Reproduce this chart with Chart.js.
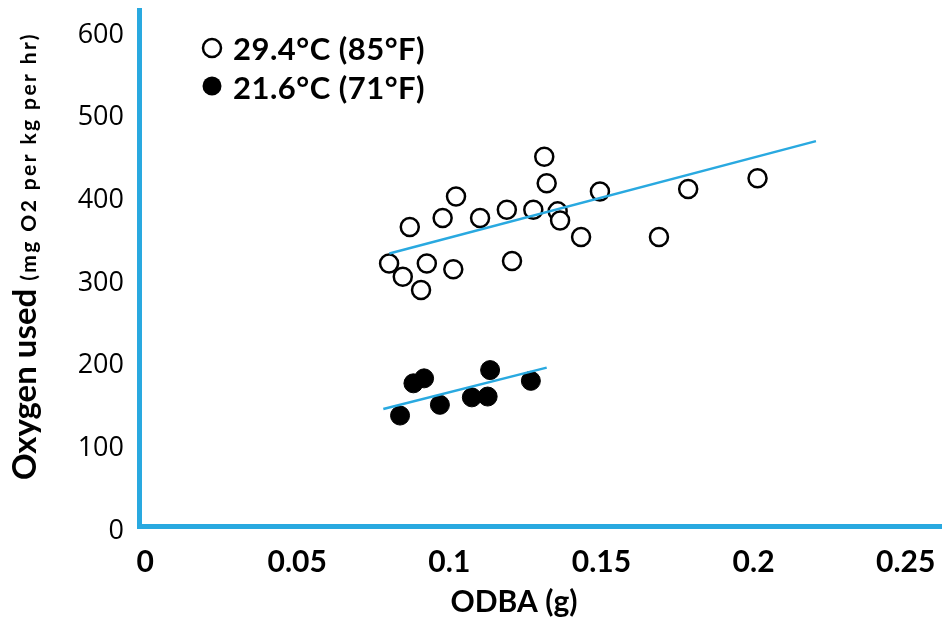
<!DOCTYPE html>
<html>
<head>
<meta charset="utf-8">
<script src="https://cdn.jsdelivr.net/npm/chart.js@4/dist/chart.umd.min.js"></script>
<style>
  html, body { margin: 0; padding: 0; background: #fff; }
  #wrap { width: 942px; height: 621px; position: relative; }
</style>
</head>
<body>
<div id="wrap"><canvas id="chart_oxygen" width="942" height="621"></canvas></div>
<script>
// 29.4°C (85°F) - open circles
var warmX = [0.0802, 0.0847, 0.0907, 0.0870, 0.0926, 0.1013, 0.0978, 0.1022, 0.1101, 0.1189, 0.1206,
             0.1276, 0.1312, 0.1320, 0.1356, 0.1364, 0.1433, 0.1495, 0.1689, 0.1785, 0.2013];
var warmY = [320, 304, 288, 364, 320, 313, 375, 401, 375, 385, 323,
             385, 449, 417, 383, 372, 352, 407, 352, 410, 423];
// 21.6°C (71°F) - filled circles
var coolX = [0.0838, 0.0882, 0.0917, 0.0969, 0.1074, 0.1126, 0.1134, 0.1268];
var coolY = [136, 175, 181, 149, 158, 159, 191, 178];
// trend lines (end points)
var warmTrendX = [0.0803, 0.2205];
var warmTrendY = [332, 468];
var coolTrendX = [0.0783, 0.1320];
var coolTrendY = [144, 194];

var xTicks = [0, 0.05, 0.1, 0.15, 0.2, 0.25];
var yTicks = [0, 100, 200, 300, 400, 500, 600];
var legendLabels = ['29.4°C (85°F)', '21.6°C (71°F)'];
var xTitle = 'ODBA (g)';
var yTitle = 'Oxygen used';
var yTitleSmall = '(mg O2 per kg per hr)';

var BLUE = '#29a9e0';

function pts(xs, ys) {
    return xs.map(function (x, i) { return {x: x, y: ys[i]}; });
}

// no extra room for the tick labels, the plot fills the canvas
function noLabelPadding(scale) {
    scale.paddingTop = 0;
    scale.paddingBottom = 0;
    scale.paddingLeft = 0;
    scale.paddingRight = 0;
}

var textPlugin = {
    id: 'texts',
    afterDraw: function (chart) {
        var ctx = chart.ctx;
        ctx.save();
        // legend
        ctx.lineWidth = 2.5;
        ctx.strokeStyle = '#000';
        ctx.fillStyle = '#fff';
        ctx.beginPath();
        ctx.arc(212, 48, 9, 0, Math.PI * 2);
        ctx.fill();
        ctx.stroke();
        ctx.fillStyle = '#000';
        ctx.beginPath();
        ctx.arc(212, 86, 9.5, 0, Math.PI * 2);
        ctx.fill();
        ctx.font = 'bold 31px Lato';
        ctx.letterSpacing = '0.5px';
        ctx.textAlign = 'left';
        ctx.textBaseline = 'alphabetic';
        ctx.fillText(legendLabels[0], 233, 60);
        ctx.fillText(legendLabels[1], 233, 99);

        // x title
        ctx.font = 'bold 30px Lato';
        ctx.letterSpacing = '0px';
        ctx.textAlign = 'center';
        ctx.fillText(xTitle, 514, 612);

        // y title (two sizes)
        ctx.translate(36, 480);
        ctx.rotate(-Math.PI / 2);
        ctx.textAlign = 'left';
        ctx.font = 'bold 33px Lato';
        ctx.fillText(yTitle, 0, 0);
        var w = ctx.measureText(yTitle + ' ').width;
        ctx.font = 'bold 21px Lato';
        ctx.letterSpacing = '2.4px';
        ctx.fillText(yTitleSmall, w, 0);
        ctx.restore();
    }
};

var ctx = document.getElementById('chart_oxygen');
var chart = new Chart(ctx, {
    type: 'scatter',
    data: {
        datasets: [
            {
                label: legendLabels[0],
                data: pts(warmX, warmY),
                backgroundColor: '#fff',
                borderColor: '#000',
                borderWidth: 2.5,
                pointRadius: 9,
                order: 2
            },
            {
                label: legendLabels[1],
                data: pts(coolX, coolY),
                backgroundColor: '#000',
                borderColor: '#000',
                borderWidth: 1,
                pointRadius: 9.5,
                order: 2
            },
            {
                label: 'trend warm',
                data: pts(warmTrendX, warmTrendY),
                showLine: true,
                borderColor: BLUE,
                borderWidth: 2.5,
                pointRadius: 0,
                order: 1
            },
            {
                label: 'trend cool',
                data: pts(coolTrendX, coolTrendY),
                showLine: true,
                borderColor: BLUE,
                borderWidth: 2.5,
                pointRadius: 0,
                order: 1
            }
        ]
    },
    options: {
        responsive: false,
        animation: false,
        devicePixelRatio: 1,
        layout: { autoPadding: false, padding: { top: 10, right: 1, left: 0, bottom: 0 } },
        plugins: {
            legend: { display: false },
            tooltip: { enabled: false }
        },
        scales: {
            x: {
                type: 'linear',
                min: -0.002,
                max: 0.2616,
                afterBuildTicks: function (scale) {
                    scale.ticks = xTicks.map(function (v) { return {value: v}; });
                },
                afterFit: function (scale) {
                    scale.height = 95;
                    noLabelPadding(scale);
                },
                grid: { color: 'rgba(0,0,0,0)', drawTicks: false },
                border: { display: true, color: BLUE, width: 5 },
                ticks: {
                    color: '#000',
                    padding: 18,
                    maxRotation: 0,
                    font: { family: 'Lato', weight: 'bold', size: 30 },
                    callback: function (v) { return String(v); }
                }
            },
            y: {
                type: 'linear',
                min: 2.4,
                max: 626.6,
                afterBuildTicks: function (scale) {
                    scale.ticks = yTicks.map(function (v) { return {value: v}; });
                },
                afterFit: function (scale) {
                    scale.width = 139;
                    noLabelPadding(scale);
                },
                grid: { color: 'rgba(0,0,0,0)', drawTicks: false },
                border: { display: true, color: BLUE, width: 5 },
                ticks: {
                    color: '#000',
                    padding: 15,
                    labelOffset: 3,
                    font: { family: 'Open Sans', size: 27 },
                    callback: function (v) { return String(v); }
                }
            }
        }
    },
    plugins: [textPlugin]
});
</script>
</body>
</html>
